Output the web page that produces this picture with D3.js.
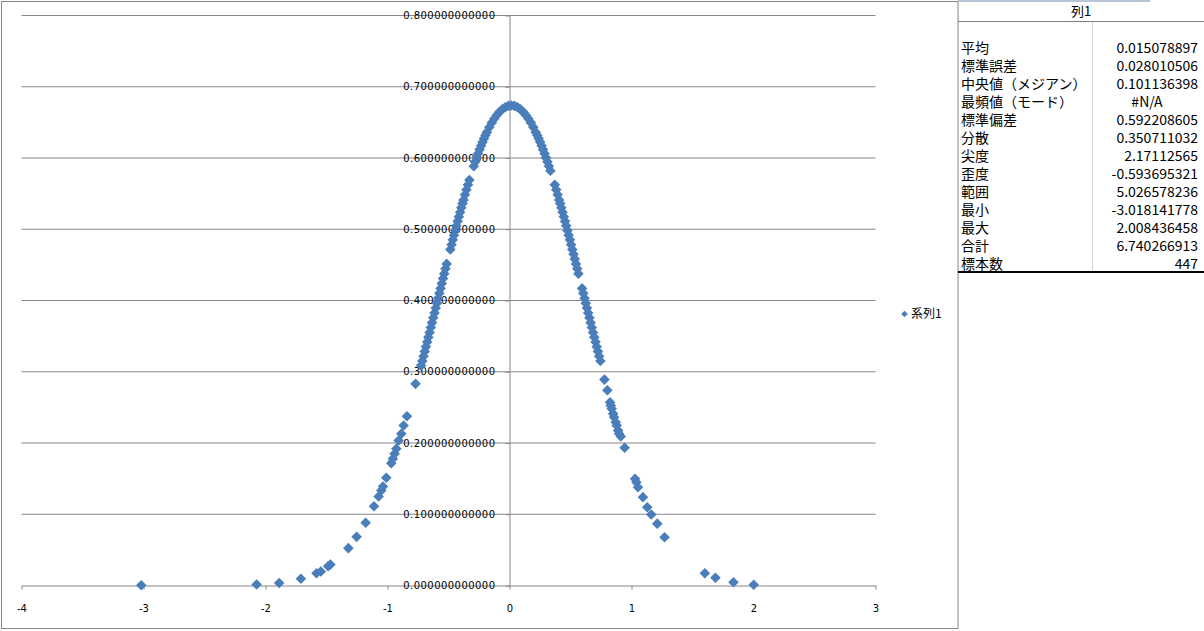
<!DOCTYPE html>
<html><head><meta charset="utf-8">
<script src="https://cdn.jsdelivr.net/npm/d3@7"></script>
<style>
html,body{margin:0;padding:0;background:#fff;}
svg{display:block;}
</style>
</head><body>
<svg id="c" width="1204" height="631"></svg>
<script>
// ---- data ----
const seriesName = "系列1";
const xValues = [
  -3.018,-2.073,-1.888,-1.710,-1.582,-1.547,-1.487,-1.468,-1.321,-1.253,-1.179,-1.111,-1.073,-1.051,-1.037,-1.010,-0.969,-0.956,-0.942,-0.928,-0.909,-0.887,-0.868,-0.841,-0.770,
  -0.725,-0.715,-0.705,-0.695,-0.685,-0.675,-0.665,-0.655,-0.645,-0.635,-0.625,-0.615,-0.605,-0.595,-0.585,-0.575,-0.565,-0.555,-0.545,-0.535,-0.525,-0.515,
  -0.485,-0.475,-0.465,-0.455,-0.445,-0.435,-0.425,-0.415,-0.405,-0.395,-0.385,-0.377,-0.365,-0.353,-0.341,-0.329,
  -0.293,-0.281,-0.269,-0.257,-0.245,-0.233,-0.221,-0.209,-0.197,-0.185,-0.165,-0.145,-0.125,-0.105,-0.085,-0.060,-0.035,-0.010,0.015,
  0.040,0.065,0.090,0.115,0.135,0.155,0.175,0.195,0.215,0.227,0.239,0.251,0.263,0.275,0.287,0.299,0.311,0.323,0.335,
  0.371,0.383,0.395,0.407,0.415,0.425,0.435,0.445,0.455,0.465,0.475,0.485,0.495,0.505,0.515,0.525,0.535,0.545,0.555,0.565,
  0.595,0.605,0.615,0.625,0.635,0.645,0.655,0.665,0.675,0.685,0.695,0.705,0.715,0.725,0.735,0.745,
  0.778,0.802,0.824,0.830,0.838,0.849,0.857,0.871,0.879,0.890,0.898,0.912,0.944,
  1.029,1.040,1.053,1.094,1.129,1.162,1.211,1.271,1.601,1.688,1.836,2.002
];
const yValues = [
  0.0003,0.0013,0.0035,0.0094,0.0173,0.0196,0.0271,0.0295,0.0524,0.0683,0.0880,0.1113,0.1249,0.1333,0.1389,0.1512,0.1717,0.1778,0.1848,0.1919,0.2035,0.2129,0.2246,0.2376,0.2830,
  0.3086,0.3151,0.3217,0.3284,0.3350,0.3417,0.3485,0.3552,0.3620,0.3689,0.3757,0.3826,0.3894,0.3963,0.4032,0.4101,0.4170,0.4239,0.4308,0.4377,0.4445,0.4514,
  0.4717,0.4784,0.4851,0.4917,0.4983,0.5048,0.5112,0.5176,0.5239,0.5301,0.5363,0.5411,0.5484,0.5554,0.5623,0.5691,
  0.5885,0.5946,0.6005,0.6063,0.6118,0.6171,0.6223,0.6272,0.6319,0.6363,0.6433,0.6496,0.6551,0.6600,0.6642,0.6683,0.6713,0.6731,0.6737,
  0.6731,0.6713,0.6683,0.6642,0.6600,0.6551,0.6496,0.6433,0.6363,0.6319,0.6272,0.6223,0.6171,0.6118,0.6063,0.6005,0.5946,0.5885,0.5822,
  0.5623,0.5554,0.5484,0.5411,0.5363,0.5301,0.5239,0.5176,0.5112,0.5048,0.4983,0.4917,0.4851,0.4784,0.4717,0.4650,0.4582,0.4514,0.4445,0.4377,
  0.4170,0.4101,0.4032,0.3963,0.3894,0.3826,0.3757,0.3689,0.3620,0.3552,0.3485,0.3417,0.3350,0.3284,0.3217,0.3151,
  0.2890,0.2740,0.2573,0.2526,0.2480,0.2410,0.2362,0.2292,0.2246,0.2175,0.2129,0.2091,0.1933,
  0.1498,0.1450,0.1380,0.1240,0.1099,0.0996,0.0868,0.0678,0.0173,0.0108,0.0046,0.0010
];
const xTickValues = [-4,-3,-2,-1,0,1,2,3];
const yTickValues = [0,0.1,0.2,0.3,0.4,0.5,0.6,0.7,0.8];
const tableHeader = "列1";
const statLabels = ["平均","標準誤差","中央値（メジアン）","最頻値（モード）","標準偏差","分散","尖度","歪度","範囲","最小","最大","合計","標本数"];
const statValues = ["0.015078897","0.028010506","0.101136398","#N/A","0.592208605","0.350711032","2.17112565","-0.593695321","5.026578236","-3.018141778","2.008436458","6.740266913","447"];

// ---- drawing ----
const svg = d3.select("#c");
const grid = "#868686";
const blue = "#4A7EBB";

svg.append("rect").attr("x",1.5).attr("y",1.5).attr("width",956.5).attr("height",627)
  .attr("fill","#fff").attr("stroke",grid).attr("stroke-width",1);

const x = d3.scaleLinear().domain([-4,3]).range([21.5,875.5]);
const y = d3.scaleLinear().domain([0,0.8]).range([585.5,15.5]);

// horizontal gridlines
svg.append("g").selectAll("line").data(yTickValues.filter(v=>v>0)).join("line")
  .attr("x1",x(-4)).attr("x2",x(3)).attr("y1",d=>y(d)).attr("y2",d=>y(d))
  .attr("stroke",grid).attr("stroke-width",1);

// x axis
const xAxis = svg.append("g").attr("transform",`translate(0,${y(0)})`)
  .call(d3.axisBottom(x).tickValues(xTickValues).tickSize(4).tickSizeOuter(0).tickPadding(15).tickFormat(d3.format("d")));
xAxis.select(".domain").attr("stroke",grid);
xAxis.selectAll(".tick line").attr("stroke",grid);
xAxis.selectAll(".tick text").attr("font-family","DejaVu Sans").attr("font-size","10px").attr("fill","#000")
  .text(d=> d<0 ? "-"+Math.abs(d) : String(d));

// y axis at x = 0
const yAxis = svg.append("g").attr("transform",`translate(${x(0)},0)`)
  .call(d3.axisLeft(y).tickValues(yTickValues).tickSize(4).tickSizeOuter(0).tickPadding(10).tickFormat(d3.format(".12f")));
yAxis.select(".domain").attr("stroke",grid);
yAxis.selectAll(".tick line").attr("stroke",grid);
yAxis.selectAll(".tick text").attr("font-family","DejaVu Sans").attr("font-size","10px").attr("fill","#000")
  .attr("letter-spacing","0.45px");

// points
const pts = xValues.map((v,i)=>({x:v,y:yValues[i]}));
const sym = d3.symbol().type(d3.symbolSquare).size(56);
svg.append("g").selectAll("path").data(pts).join("path")
  .attr("d",sym)
  .attr("transform",d=>`translate(${x(d.x)},${y(d.y)}) rotate(45)`)
  .attr("fill",blue);

// legend
svg.append("path").attr("d",d3.symbol().type(d3.symbolSquare).size(22))
  .attr("transform","translate(904.5,314) rotate(45)").attr("fill",blue);
svg.append("text").attr("x",911).attr("y",314).attr("dy","0.35em")
  .attr("font-family","Noto Sans CJK JP").attr("font-size","12px").attr("fill","#000").text(seriesName);

// ---- statistics table ----
const t = svg.append("g");
t.append("line").attr("x1",958).attr("x2",1150).attr("y1",1).attr("y2",1).attr("stroke","#b7c3d6").attr("stroke-width",2);
t.append("text").attr("x",1081).attr("y",11).attr("dy","0.36em").attr("text-anchor","middle")
  .attr("font-family","Noto Sans CJK JP").attr("font-size","13px").attr("fill","#000").text(tableHeader);
t.append("line").attr("x1",958).attr("x2",1204).attr("y1",21.5).attr("y2",21.5).attr("stroke","#7f7f7f").attr("stroke-width",1);
t.append("line").attr("x1",1092.5).attr("x2",1092.5).attr("y1",22).attr("y2",271).attr("stroke","#d4d4d4").attr("stroke-width",1);
t.append("line").attr("x1",958).attr("x2",1204).attr("y1",272).attr("y2",272).attr("stroke","#000").attr("stroke-width",2);
const rowY = i => 48 + i*18;
t.selectAll("text.lab").data(statLabels).join("text").attr("class","lab")
  .attr("x",961).attr("y",(d,i)=>rowY(i)).attr("dy","0.36em")
  .attr("font-family","Noto Sans CJK JP").attr("font-size","14px").attr("fill","#000").text(d=>d);
t.selectAll("text.val").data(statValues).join("text").attr("class","val")
  .attr("x",d=> d==="#N/A" ? 1147 : 1198).attr("y",(d,i)=>rowY(i)).attr("dy","0.36em")
  .attr("text-anchor",d=> d==="#N/A" ? "middle" : "end")
  .attr("font-family","Noto Sans CJK JP").attr("font-size","14px").attr("fill","#000").text(d=>d);
</script>
</body></html>
